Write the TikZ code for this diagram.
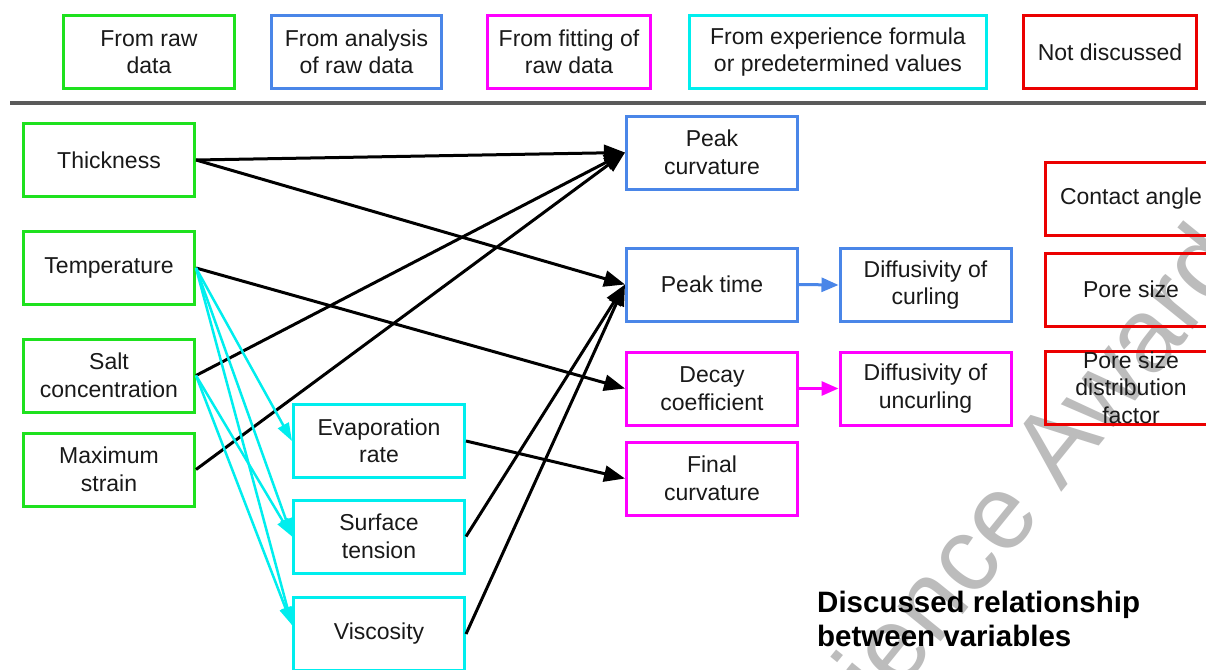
\documentclass[tikz,border=0pt]{standalone}
\usepackage{fontspec}
\setmainfont{Liberation Sans}
\usetikzlibrary{arrows.meta}
\definecolor{cgreen}{RGB}{30,225,30}
\definecolor{cblue}{RGB}{74,134,232}
\definecolor{cmag}{RGB}{255,0,255}
\definecolor{ccyan}{RGB}{0,238,238}
\definecolor{cred}{RGB}{235,0,0}
\definecolor{ctext}{RGB}{25,25,25}
\definecolor{wmgray}{RGB}{188,188,188}
\definecolor{sepgray}{RGB}{90,90,90}
\tikzset{
  box/.style={draw, line width=3pt, minimum width=171pt, minimum height=73pt,
    inner sep=0pt, align=center, text=ctext, font=\fontsize{23}{27.5}\selectfont},
  blk/.style={line width=3pt, black, -{Triangle[length=21pt,width=16pt]}},
  cy/.style={line width=2.5pt, ccyan, -{Triangle[length=18pt,width=12pt]}},
  bl/.style={line width=3pt, cblue, -{Triangle[length=17pt,width=14pt]}},
  mg/.style={line width=3pt, cmag, -{Triangle[length=17pt,width=14pt]}},
}
\begin{document}
\begin{tikzpicture}[x=1pt,y=-1pt]
\useasboundingbox (0,0) rectangle (1206,669);
\clip (0,0) rectangle (1206,669);
\fill[white] (0,0) rectangle (1206,669);
% watermark
\node[rotate=51, anchor=base west, text=wmgray, inner sep=0pt,
  font=\fontsize{105}{105}\selectfont] (wm) at (808,806) {Science Award};
% legend
\node[box, draw=cgreen] (lraw) at (149,52) {From raw\\data};
\node[box, draw=cblue, minimum width=170pt] (lana) at (356.5,52) {From analysis\\of raw data};
\node[box, draw=cmag, minimum width=163pt] (lfit) at (569,52) {From fitting of\\raw data};
\node[box, draw=ccyan, minimum width=297pt] (lexp) at (838,52) {From experience formula\\or predetermined values};
\node[box, draw=cred, minimum width=173pt] (lnot) at (1110,52) {Not discussed};
\coordinate (sepL) at (10,103);
\coordinate (sepR) at (1206,103);
\draw[line width=4pt, sepgray] (sepL) -- (sepR);
% left column
\node[box, draw=cgreen] (thick) at (109,160) {Thickness};
\node[box, draw=cgreen] (temp) at (109,268) {Temperature};
\node[box, draw=cgreen] (salt) at (109,375.5) {Salt\\concentration};
\node[box, draw=cgreen] (strain) at (109,469.5) {Maximum\\strain};
% middle column
\node[box, draw=ccyan] (evap) at (379,441) {Evaporation\\rate};
\node[box, draw=ccyan] (surf) at (379,536.5) {Surface\\tension};
\node[box, draw=ccyan] (visc) at (379,634) {Viscosity};
% right column
\node[box, draw=cblue] (pcurv) at (712,152.5) {Peak\\curvature};
\node[box, draw=cblue] (ptime) at (712,284.5) {Peak time};
\node[box, draw=cmag] (decay) at (712,388.5) {Decay\\coefficient};
\node[box, draw=cmag] (final) at (712,478.5) {Final\\curvature};
\node[box, draw=cblue] (dcurl) at (925.5,285) {Diffusivity of\\curling};
\node[box, draw=cmag] (duncurl) at (925.5,388.5) {Diffusivity of\\uncurling};
% not discussed
\node[box, draw=cred] (cangle) at (1131,198.5) {Contact angle};
\node[box, draw=cred] (psize) at (1131,289.5) {Pore size};
\node[box, draw=cred] (pdist) at (1131,387.5) {Pore size\\distribution\\factor};
% title
\node[anchor=north west, inner sep=0pt, align=left, text=black,
  font=\bfseries\fontsize{29.5}{34}\selectfont] (title) at (817,591)
  {Discussed relationship\\between variables};
% black arrows
\draw[blk] (thick.east) -- (pcurv.west);
\draw[blk] (thick.east) -- (ptime.west);
\draw[blk] (temp.east) -- (decay.west);
\draw[blk] (salt.east) -- (pcurv.west);
\draw[blk] (strain.east) -- (pcurv.west);
\draw[blk] (evap.east) -- (final.west);
\draw[blk] (surf.east) -- (ptime.west);
\draw[blk] (visc.east) -- (ptime.west);
% cyan arrows
\draw[cy] (temp.east) -- (evap.west);
\draw[cy] (temp.east) -- (surf.west);
\draw[cy] (temp.east) -- ([yshift=9pt]visc.west);
\draw[cy] (salt.east) -- (surf.west);
\draw[cy] (salt.east) -- ([yshift=9pt]visc.west);
% colored arrows
\draw[bl] (ptime.east) -- (dcurl.west);
\draw[mg] (decay.east) -- (duncurl.west);
\end{tikzpicture}
\end{document}
